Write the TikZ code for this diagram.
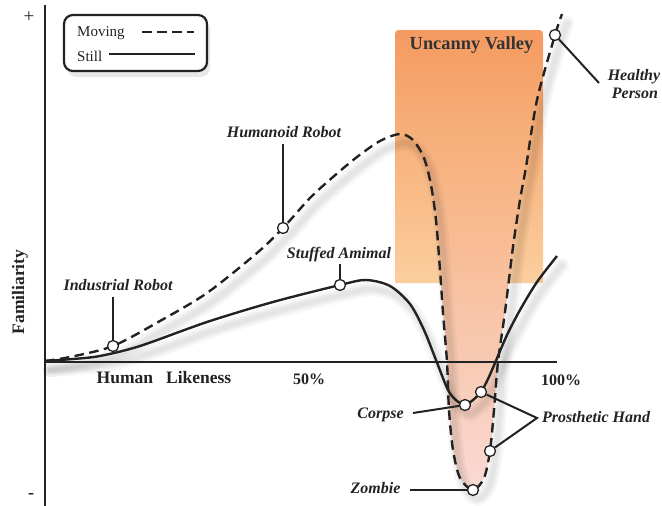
\documentclass[tikz,border=0pt]{standalone}
\usepackage{fontspec}
\setmainfont{Liberation Serif}
\usetikzlibrary{shadows}
\definecolor{uvtop}{HTML}{F49A60}
\definecolor{uvbot}{HTML}{FBCE9E}
\definecolor{valtop}{HTML}{F7AF79}
\definecolor{valmid}{HTML}{F8D0C6}
\definecolor{valbot}{HTML}{F9DAD5}
\definecolor{ink}{HTML}{222222}
\tikzset{
  curve/.style={line width=2.4pt, ink},
  movingcurve/.style={curve, dash pattern=on 9.5pt off 5.5pt},
  stillcurve/.style={curve},
  shadowline/.style={black, opacity=0.035, line join=round, line cap=round},
  marker/.style={circle, draw=ink, fill=white, line width=1.3pt, inner sep=0pt, minimum size=11pt},
  leader/.style={line width=2pt, ink},
  lab/.style={font=\fontsize{16}{18}\selectfont\bfseries\itshape, text=ink, inner sep=0pt},
  axislab/.style={font=\fontsize{17.5}{20}\selectfont\bfseries, text=ink, inner sep=0pt},
  pctlab/.style={font=\fontsize{16}{18}\selectfont\bfseries, text=ink, inner sep=0pt},
  legtext/.style={font=\fontsize{15}{17}\selectfont, text=ink, inner sep=0pt},
  axisline/.style={line width=2.6pt, ink},
}
\begin{document}
\begin{tikzpicture}[x=1pt,y=-1pt]
\useasboundingbox (0,0) rectangle (662,506);

% Uncanny valley band
\shade[top color=uvtop, bottom color=uvbot]
  (395,283) -- (395,38) .. controls (395,30) .. (403,30) -- (535,30)
  .. controls (543,30) .. (543,38) -- (543,283) -- cycle;

% valley fill
\begin{scope}
\clip plot[smooth] coordinates {(380,141) (400,134) (413,140) (424,158) (431,185) (436,220) (440,270) (443,313) (447,362) (449,410) (453,450) (460,478) (473,490) (484,478) (490,451) (494,410) (498,362) (505,312) (513,247) (520,200) (526,167) (537,100) (555,35) (562,14)} -- cycle;
\clip (398,134) rectangle (543,506);
\shade[top color=valtop, middle color=valmid, bottom color=valbot] (395,134) rectangle (545,492);
\end{scope}

% curve shadows
\foreach \w in {14,9,5}{
\draw[shadowline, line width=\w pt, shift={(5,9)}] plot[smooth] coordinates {(45,361) (73,359) (100,356) (140,346) (207,322) (273,302) (340,285) (366,280) (390,286) (410,304) (424,330) (436,360) (448,390) (457,401) (465,405) (473,400) (481,392) (488,379) (495,363) (507,335) (520,310) (537,282) (557,256)};
\draw[shadowline, line width=\w pt, shift={(5,9)}] plot[smooth] coordinates {(45,361) (70,357) (113,346) (160,321) (207,293) (257,253) (283,228) (310,198) (333,177) (357,157) (380,141) (400,134) (413,140) (424,158) (431,185) (436,220) (440,270) (443,313) (447,362) (449,410) (453,450) (460,478) (473,490) (484,478) (490,451) (494,410) (498,362) (505,312) (513,247) (520,200) (526,167) (537,100) (555,35) (562,14)};
}

% axes
\coordinate (ytop) at (45,5);
\coordinate (ybot) at (45,506);
\coordinate (origin) at (45,362);
\coordinate (xend) at (557,362);
\draw[axisline] (ytop) -- (ybot);
\draw[axisline] (origin) -- (xend);

% curves
\draw[stillcurve] plot[smooth] coordinates {(45,361) (73,359) (100,356) (140,346) (207,322) (273,302) (340,285) (366,280) (390,286) (410,304) (424,330) (436,360) (448,390) (457,401) (465,405) (473,400) (481,392) (488,379) (495,363) (507,335) (520,310) (537,282) (557,256)};
\draw[movingcurve] plot[smooth] coordinates {(45,361) (70,357) (113,346) (160,321) (207,293) (257,253) (283,228) (310,198) (333,177) (357,157) (380,141) (400,134) (413,140) (424,158) (431,185) (436,220) (440,270) (443,313) (447,362) (449,410) (453,450) (460,478) (473,490) (484,478) (490,451) (494,410) (498,362) (505,312) (513,247) (520,200) (526,167) (537,100) (555,35) (562,14)};

% axis labels
\node[font=\fontsize{19}{20}\selectfont, text=ink, inner sep=0pt] (plus) at (29,17) {+};
\node[font=\fontsize{18}{20}\selectfont\bfseries, text=ink, inner sep=0pt] (minus) at (31,496) {-};
\node[axislab, rotate=90] (fam) at (20,292) {Familiarity};
\node[axislab, anchor=base] (hl) at (164,383) {Human\hspace{13pt}Likeness};
\node[pctlab, anchor=base] (p50) at (309,384) {50\%};
\node[pctlab, anchor=base] (p100) at (561,385) {100\%};

% uncanny valley label
\node[font=\fontsize{18.4}{20}\selectfont\bfseries, text=black!80, inner sep=0pt, anchor=base] (uv) at (471.5,49) {Uncanny Valley};

% legend
\node[draw=ink, line width=2.2pt, rounded corners=9pt, fill=white, minimum width=143pt, minimum height=56pt,
      drop shadow={opacity=0.18, shadow xshift=3pt, shadow yshift=-6pt}] (legend) at (135.5,43) {};
\node[legtext, anchor=base west] (lmov) at (77,36) {Moving};
\node[legtext, anchor=base west] (lstill) at (77,61) {Still};
\coordinate (lm1) at (142,32);
\coordinate (lm2) at (194,32);
\coordinate (ls1) at (109,54);
\coordinate (ls2) at (195,54);
\draw[movingcurve] (lm1) -- (lm2);
\draw[stillcurve] (ls1) -- (ls2);

% markers
\node[marker] (ir) at (113,346) {};
\node[marker] (hr) at (283,228) {};
\node[marker] (sa) at (340,285) {};
\node[marker] (hp) at (555,35) {};
\node[marker] (co) at (465,405) {};
\node[marker] (ph1) at (481,392) {};
\node[marker] (ph2) at (490,451) {};
\node[marker] (zo) at (473,490) {};

% labels
\node[lab, anchor=base] (irlab) at (118,290) {Industrial Robot};
\node[lab, anchor=base] (hrlab) at (284,137) {Humanoid Robot};
\node[lab, anchor=base] (salab) at (339,258) {Stuffed Amimal};
\node[lab, anchor=base] (hplab1) at (634,80) {Healthy};
\node[lab, anchor=base] (hplab2) at (635,98) {Person};
\node[lab, anchor=base] (colab) at (380.5,418) {Corpse};
\node[lab, anchor=base] (phlab) at (596,422) {Prosthetic Hand};
\node[lab, anchor=base] (zolab) at (375.5,493) {Zombie};

% leaders
\coordinate (irl) at (113,297);
\coordinate (hrl) at (283,144);
\coordinate (sal) at (340,264);
\coordinate (hpl) at (599,83);
\coordinate (col) at (413,413);
\coordinate (phl) at (537,418);
\coordinate (zol) at (410,490);
\draw[leader] (irl) -- (ir);
\draw[leader] (hrl) -- (hr);
\draw[leader] (sal) -- (sa);
\draw[leader] (hp) -- (hpl);
\draw[leader] (col) -- (co);
\draw[leader] (ph1) -- (phl) -- (ph2);
\draw[leader] (zol) -- (zo);
\end{tikzpicture}
\end{document}
